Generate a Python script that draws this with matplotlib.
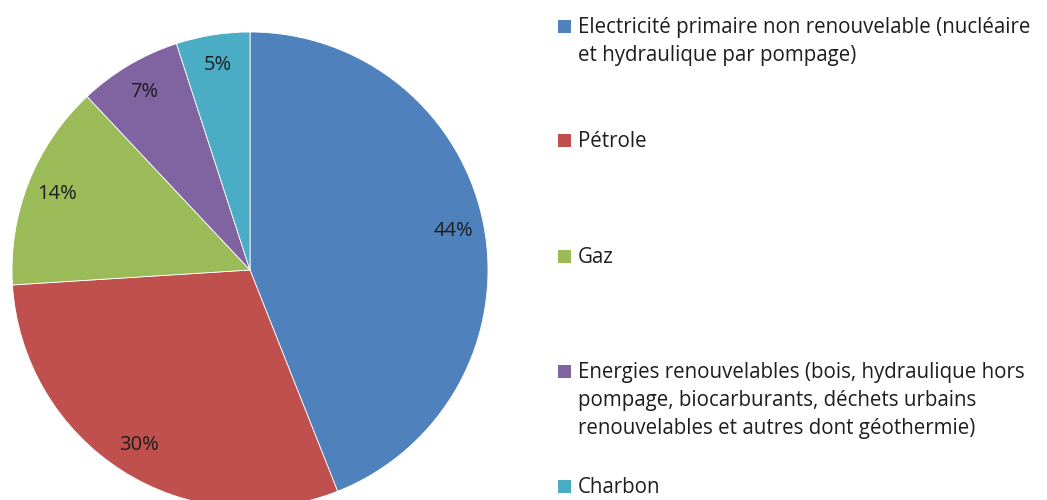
import matplotlib
matplotlib.use("Agg")
import matplotlib.pyplot as plt
from matplotlib.patches import Rectangle

labels = [
    "Electricité primaire non renouvelable (nucléaire\net hydraulique par pompage)",
    "Pétrole",
    "Gaz",
    "Energies renouvelables (bois, hydraulique hors\npompage, biocarburants, déchets urbains\nrenouvelables et autres dont géothermie)",
    "Charbon",
]
values = [44, 30, 14, 7, 5]
colors = ["#4F81BD", "#C0504D", "#9BBB59", "#8064A2", "#4BACC6"]

plt.rcParams["font.family"] = ["Open Sans", "DejaVu Sans"]

W, H = 1047, 500
fig = plt.figure(figsize=(W / 100, H / 100), dpi=100)

# pie centred at (250, 270) px with a 238 px radius, runs past the bottom edge
cx, cy, r = 250, 270, 238
ax = fig.add_axes([(cx - r) / W, 1 - (cy + r) / H, 2 * r / W, 2 * r / H])
wedges, texts, autotexts = ax.pie(
    values, colors=colors, startangle=90, counterclock=False,
    autopct="%1.0f%%", pctdistance=0.87,
    wedgeprops=dict(edgecolor="white", linewidth=0.6),
    textprops=dict(fontsize=14.5, color="#1e1e1e"),
)
ax.set_xlim(-1, 1)
ax.set_ylim(-1, 1)
ax.set_aspect("equal")
ax.axis("off")

# legend: square marker beside the first line of each entry
baselines = [33, 147, 263, 378, 493]
line_gap = 28
for wedge, label, base in zip(wedges, labels, baselines):
    fig.patches.append(Rectangle((558 / W, 1 - base / H), 13 / W, 13 / H,
                                 transform=fig.transFigure,
                                 facecolor=wedge.get_facecolor(), edgecolor="none"))
    for k, line in enumerate(label.split("\n")):
        fig.text(578 / W, 1 - (base + k * line_gap) / H, line,
                 fontsize=14.8, color="#1e1e1e", va="baseline", ha="left")

fig.savefig("out.png", dpi=100, facecolor="white")
